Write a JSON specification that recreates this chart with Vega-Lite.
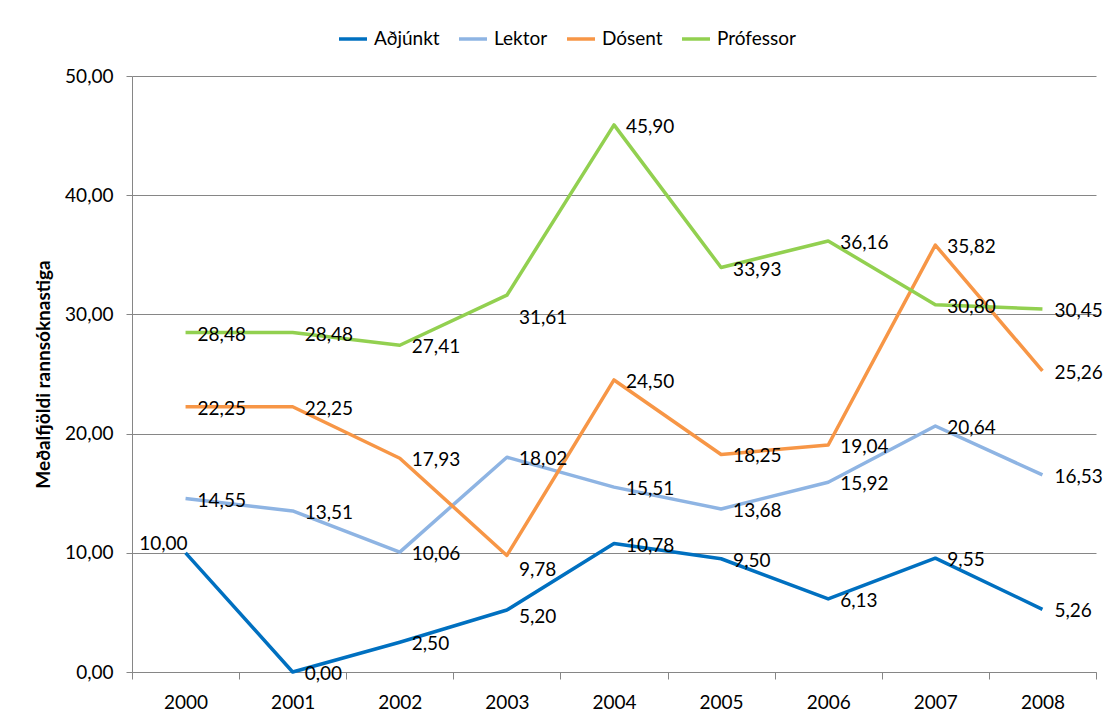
{
  "$schema": "https://vega.github.io/schema/vega-lite/v6.json",
  "autosize": "none",
  "width": 964,
  "height": 596,
  "padding": {"left": 132, "top": 76, "right": 11, "bottom": 54},
  "background": "white",
  "config": {
    "font": "Lato",
    "view": {"stroke": null},
    "locale": {"number": {"decimal": ",", "thousands": ".", "grouping": [3], "currency": ["", " kr."]}}
  },
  "data": {
    "values": [
      {"year": "2000", "series": "Aðjúnkt", "value": 10.00},
      {"year": "2001", "series": "Aðjúnkt", "value": 0.00},
      {"year": "2002", "series": "Aðjúnkt", "value": 2.50},
      {"year": "2003", "series": "Aðjúnkt", "value": 5.20},
      {"year": "2004", "series": "Aðjúnkt", "value": 10.78},
      {"year": "2005", "series": "Aðjúnkt", "value": 9.50},
      {"year": "2006", "series": "Aðjúnkt", "value": 6.13},
      {"year": "2007", "series": "Aðjúnkt", "value": 9.55},
      {"year": "2008", "series": "Aðjúnkt", "value": 5.26},
      {"year": "2000", "series": "Lektor", "value": 14.55},
      {"year": "2001", "series": "Lektor", "value": 13.51},
      {"year": "2002", "series": "Lektor", "value": 10.06},
      {"year": "2003", "series": "Lektor", "value": 18.02},
      {"year": "2004", "series": "Lektor", "value": 15.51},
      {"year": "2005", "series": "Lektor", "value": 13.68},
      {"year": "2006", "series": "Lektor", "value": 15.92},
      {"year": "2007", "series": "Lektor", "value": 20.64},
      {"year": "2008", "series": "Lektor", "value": 16.53},
      {"year": "2000", "series": "Dósent", "value": 22.25},
      {"year": "2001", "series": "Dósent", "value": 22.25},
      {"year": "2002", "series": "Dósent", "value": 17.93},
      {"year": "2003", "series": "Dósent", "value": 9.78},
      {"year": "2004", "series": "Dósent", "value": 24.50},
      {"year": "2005", "series": "Dósent", "value": 18.25},
      {"year": "2006", "series": "Dósent", "value": 19.04},
      {"year": "2007", "series": "Dósent", "value": 35.82},
      {"year": "2008", "series": "Dósent", "value": 25.26},
      {"year": "2000", "series": "Prófessor", "value": 28.48},
      {"year": "2001", "series": "Prófessor", "value": 28.48},
      {"year": "2002", "series": "Prófessor", "value": 27.41},
      {"year": "2003", "series": "Prófessor", "value": 31.61},
      {"year": "2004", "series": "Prófessor", "value": 45.90},
      {"year": "2005", "series": "Prófessor", "value": 33.93},
      {"year": "2006", "series": "Prófessor", "value": 36.16},
      {"year": "2007", "series": "Prófessor", "value": 30.80},
      {"year": "2008", "series": "Prófessor", "value": 30.45}
    ]
  },
  "encoding": {
    "x": {
      "field": "year", "type": "nominal",
      "scale": {"paddingInner": 0, "paddingOuter": 0},
      "axis": {
        "title": null, "labelAngle": 0, "tickBand": "extent",
        "domainColor": "#868686", "tickColor": "#868686", "tickSize": 7,
        "labelFontSize": 19, "labelColor": "black", "labelPadding": 14, "labelFont": "Lato"
      }
    },
    "y": {
      "field": "value", "type": "quantitative",
      "scale": {"domain": [0, 50], "nice": false},
      "axis": {
        "title": "Meðalfjöldi rannsóknastiga", "format": ".2f", "values": [0, 10, 20, 30, 40, 50],
        "domainColor": "#868686", "tickColor": "#868686", "tickSize": 6,
        "gridColor": "#868686", "gridWidth": 1,
        "labelFontSize": 19, "labelColor": "black", "labelPadding": 13, "labelFont": "Lato",
        "titleFontSize": 19, "titleFontWeight": "bold", "titleColor": "black", "titleFont": "Lato",
        "titleX": -89, "titleY": 298, "titleAngle": -90, "titleAlign": "center", "titleBaseline": "middle"
      }
    },
    "color": {
      "field": "series", "type": "nominal",
      "scale": {
        "domain": ["Aðjúnkt", "Lektor", "Dósent", "Prófessor"],
        "range": ["#0070C0", "#8EB4E3", "#F79646", "#92D050"]
      },
      "legend": {
        "title": null, "orient": "none", "direction": "horizontal",
        "legendX": 205, "legendY": -53,
        "symbolType": "stroke", "symbolSize": 784, "symbolStrokeWidth": 3.5,
        "labelFontSize": 19, "labelColor": "black", "labelFont": "Lato", "labelOffset": 5,
        "columnPadding": 12
      }
    }
  },
  "layer": [
    {
      "mark": {"type": "line", "strokeWidth": 3.5, "strokeJoin": "round"}
    },
    {
      "transform": [{"filter": "!((datum.series == 'Aðjúnkt' && datum.year == '2000') || (datum.series == 'Prófessor' && datum.year == '2003') || (datum.series == 'Dósent' && datum.year == '2003') || (datum.series == 'Aðjúnkt' && datum.year == '2003'))"}],
      "mark": {"type": "text", "align": "left", "baseline": "middle", "dx": 12, "dy": 2, "fontSize": 19, "font": "Lato", "color": "black"},
      "encoding": {"text": {"field": "value", "type": "quantitative", "format": ".2f"}, "color": {"value": "black"}}
    },
    {
      "transform": [{"filter": "datum.series == 'Aðjúnkt' && datum.year == '2000'"}],
      "mark": {"type": "text", "align": "right", "baseline": "middle", "dx": 2, "dy": -9, "fontSize": 19, "font": "Lato", "color": "black"},
      "encoding": {"text": {"field": "value", "type": "quantitative", "format": ".2f"}, "color": {"value": "black"}}
    },
    {
      "transform": [{"filter": "datum.series == 'Prófessor' && datum.year == '2003'"}],
      "mark": {"type": "text", "align": "left", "baseline": "middle", "dx": 12, "dy": 23, "fontSize": 19, "font": "Lato", "color": "black"},
      "encoding": {"text": {"field": "value", "type": "quantitative", "format": ".2f"}, "color": {"value": "black"}}
    },
    {
      "transform": [{"filter": "datum.series == 'Dósent' && datum.year == '2003'"}],
      "mark": {"type": "text", "align": "left", "baseline": "middle", "dx": 12, "dy": 15, "fontSize": 19, "font": "Lato", "color": "black"},
      "encoding": {"text": {"field": "value", "type": "quantitative", "format": ".2f"}, "color": {"value": "black"}}
    },
    {
      "transform": [{"filter": "datum.series == 'Aðjúnkt' && datum.year == '2003'"}],
      "mark": {"type": "text", "align": "left", "baseline": "middle", "dx": 12, "dy": 7, "fontSize": 19, "font": "Lato", "color": "black"},
      "encoding": {"text": {"field": "value", "type": "quantitative", "format": ".2f"}, "color": {"value": "black"}}
    }
  ]
}
